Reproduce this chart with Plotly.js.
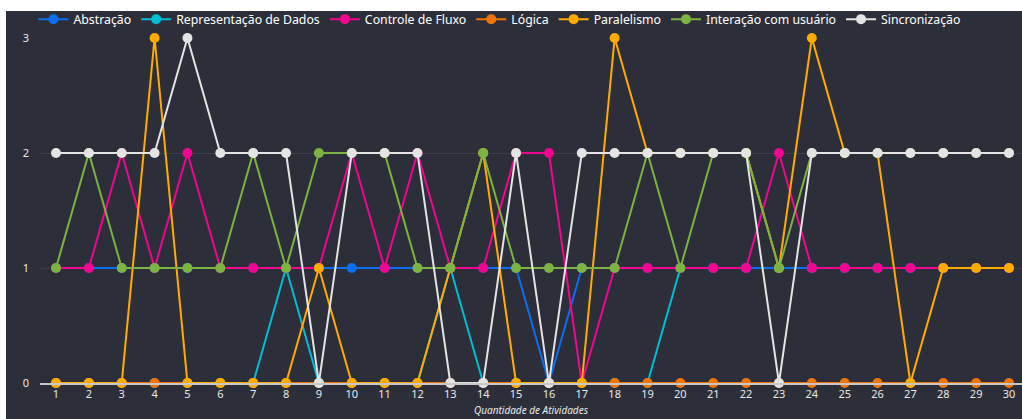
<!DOCTYPE html>
<html>
<head>
<meta charset="utf-8">
<script src="https://cdn.plot.ly/plotly-3.0.1.min.js"></script>
<style>
html,body{margin:0;padding:0;background:#ffffff;overflow:hidden;width:1022px;height:419px;}
#chart{position:absolute;left:6px;top:11px;width:1016px;height:408px;}
</style>
</head>
<body>
<div id="chart"></div>
<script>
const atividades = [1,2,3,4,5,6,7,8,9,10,11,12,13,14,15,16,17,18,19,20,21,22,23,24,25,26,27,28,29,30];
const abstracao      = [1,1,1,1,1,1,1,1,1,1,1,1,1,1,1,0,1,1,1,1,1,1,1,1,1,1,1,1,1,1];
const representacao  = [0,0,0,0,0,0,0,1,0,0,0,0,1,0,0,0,0,0,0,1,1,1,1,1,1,1,1,1,1,1];
const controle       = [1,1,2,1,2,1,1,1,1,2,1,2,1,1,2,2,0,1,1,1,1,1,2,1,1,1,1,1,1,1];
const logica         = [0,0,0,0,0,0,0,0,0,0,0,0,0,0,0,0,0,0,0,0,0,0,0,0,0,0,0,0,0,0];
const paralelismo    = [0,0,0,3,0,0,0,0,1,0,0,0,1,2,0,0,0,3,2,2,2,2,1,3,2,2,0,1,1,1];
const interacao      = [1,2,1,1,1,1,2,1,2,2,2,1,1,2,1,1,1,1,2,1,2,2,1,2,2,2,2,2,2,2];
const sincronizacao  = [2,2,2,2,3,2,2,2,0,2,2,2,0,0,2,0,2,2,2,2,2,2,0,2,2,2,2,2,2,2];

const series = [
  {name:'Representação de Dados', y:representacao, color:'#00bcd4', rank:2},
  {name:'Abstração', y:abstracao, color:'#0b6ff0', rank:1},
  {name:'Controle de Fluxo', y:controle, color:'#f0068f', rank:3},
  {name:'Lógica', y:logica, color:'#f27405', rank:4},
  {name:'Paralelismo', y:paralelismo, color:'#ffab00', rank:5},
  {name:'Interação com usuário', y:interacao, color:'#7cb342', rank:6},
  {name:'Sincronização', y:sincronizacao, color:'#e4e4e4', rank:7}
];

const traces = series.map(s => ({
  type:'scatter', mode:'lines+markers', name:s.name, x:atividades, y:s.y,
  line:{color:s.color, width:2}, marker:{color:s.color, size:10},
  legendrank:s.rank, cliponaxis:false
}));

const layout = {
  paper_bgcolor:'#2c2f39', plot_bgcolor:'#2c2f39',
  font:{family:'"Noto Sans", "Open Sans", sans-serif', color:'#e8e8e8', size:12},
  margin:{l:34, r:0, t:27, b:36, autoexpand:false},
  showlegend:true,
  legend:{orientation:'h', xref:'container', x:0.027, xanchor:'left', yref:'container', y:0.98, yanchor:'middle',
          font:{size:12.3, color:'#ffffff'}, bgcolor:'rgba(0,0,0,0)', traceorder:'normal'},
  xaxis:{range:[0.513,30.396], tickvals:atividades, ticktext:atividades.map(String),
         showgrid:false, zeroline:false, showline:true, linecolor:'#c8c8c8', linewidth:1.5,
         ticks:'', tickfont:{size:11, color:'#e8e8e8'},
         title:{text:'<i>Quantidade de Atividades</i>', font:{size:10, color:'#e8e8e8'}, standoff:7}},
  yaxis:{range:[0,3], tickvals:[0,1,2,3], showgrid:true, gridcolor:'#3c3f49', gridwidth:1,
         zeroline:false, showline:false, ticks:'', ticklabelstandoff:10, tickfont:{size:11, color:'#e8e8e8'}}
};

Plotly.newPlot('chart', traces, layout, {displayModeBar:false, staticPlot:true});
</script>
</body>
</html>
